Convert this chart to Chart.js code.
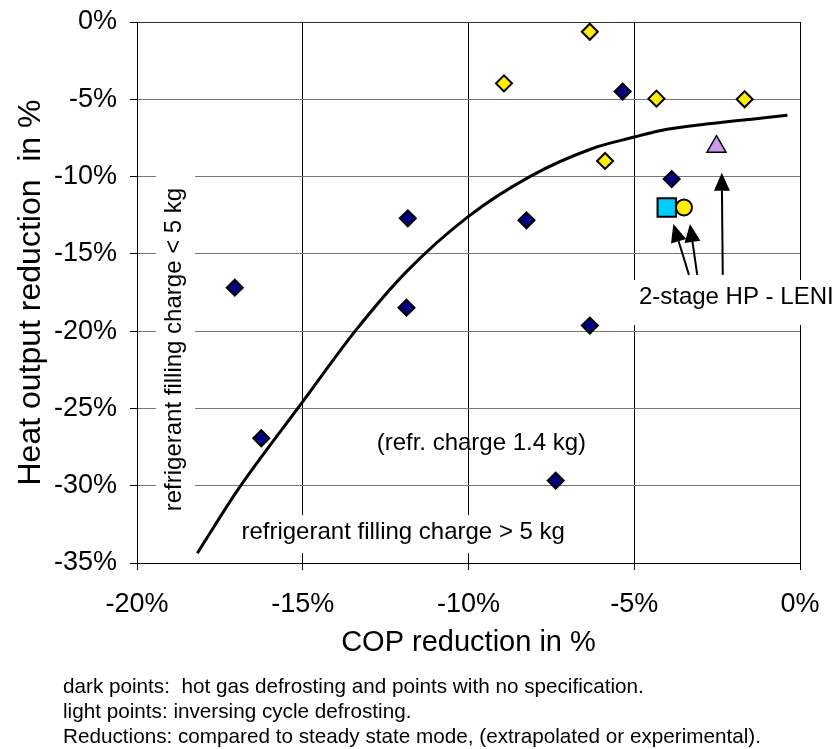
<!DOCTYPE html>
<html>
<head>
<meta charset="utf-8">
<script src="https://cdn.jsdelivr.net/npm/chart.js@4/dist/chart.umd.min.js"></script>
<style>
  html, body { margin: 0; padding: 0; background: #ffffff; }
  #wrap { width: 836px; height: 749px; position: relative; }
</style>
</head>
<body>
<div id="wrap"><canvas id="c" width="836" height="749"></canvas></div>
<script>
// Axis ticks (percent)
const copTicks = [-20, -15, -10, -5, 0];
const heatTicks = [0, -5, -10, -15, -20, -25, -30, -35];

// Hot gas defrosting / unspecified (dark points)
const darkCop  = [-17.05, -16.25, -11.83, -11.87, -8.25, -5.35, -3.87, -6.34, -7.37];
const darkHeat = [-17.19, -26.93, -12.70, -18.48, -12.83, -4.50, -10.16, -19.64, -29.67];

// Reverse cycle defrosting (light points)
const lightCop  = [-6.34, -8.93, -4.33, -1.67, -5.88];
const lightHeat = [-0.63, -3.97, -4.96, -5.00, -8.99];

// 2-stage HP - LENI variants
const lenSquareCop = [-4.02];  const lenSquareHeat = [-12.0];
const lenCircleCop = [-3.50];  const lenCircleHeat = [-12.0];
const lenTriCop    = [-2.52];  const lenTriHeat    = [-8.07];

// Trend curve
const trendCop  = [-18.18, -16.96, -15.0, -13.39, -11.87, -10.01, -8.15, -6.24, -5.03, -4.23, -2.82, -0.38];
const trendHeat = [-34.37, -30.27, -24.56, -19.92, -16.15, -12.59, -10.0, -8.17, -7.46, -7.03, -6.60, -6.04];

// Arrows pointing from the LENI label to its points: [tailCop, tailHeat, tipCop, tipHeat]
const leniArrows = [
  [-3.35, -16.36, -3.82, -13.07],
  [-3.10, -16.36, -3.32, -13.07],
  [-2.33, -16.36, -2.36, -9.75]
];

const notes = [
  'dark points:  hot gas defrosting and points with no specification.',
  'light points: inversing cycle defrosting.',
  'Reductions: compared to steady state mode, (extrapolated or experimental).'
];

const FONT = '"Liberation Sans", Arial, Helvetica, sans-serif';
Chart.defaults.font.family = FONT;
Chart.defaults.color = '#000000';

const pts = (xs, ys) => xs.map((x, i) => ({ x: x, y: ys[i] }));

const annotations = {
  id: 'annotations',
  beforeDatasetsDraw(chart) {
    const { ctx, scales: { x, y } } = chart;
    ctx.save();
    ctx.fillStyle = '#ffffff';
    // label backgrounds that interrupt the grid
    const box = (c0, c1, h0, h1) => {
      const l = x.getPixelForValue(c0), r = x.getPixelForValue(c1);
      const t = y.getPixelForValue(h0), b = y.getPixelForValue(h1);
      ctx.fillRect(l, t, r - l, b - t);
    };
    box(-19.43, -18.25, -9.6, -32.2);   // rotated "< 5 kg" label
    box(-17.05, -6.9, -31.9, -34.35);   // "> 5 kg" label
    box(-5.13, 1.2, -16.69, -19.6);     // LENI label
    ctx.restore();
  },
  afterDatasetsDraw(chart) {
    const { ctx, scales: { x, y } } = chart;
    ctx.save();
    ctx.fillStyle = '#000000';
    ctx.strokeStyle = '#000000';
    ctx.lineWidth = 2;
    leniArrows.forEach(a => {
      const x0 = x.getPixelForValue(a[0]), y0 = y.getPixelForValue(a[1]);
      const x1 = x.getPixelForValue(a[2]), y1 = y.getPixelForValue(a[3]);
      const ang = Math.atan2(y1 - y0, x1 - x0);
      const hl = 18, hw = 8;
      const bx = x1 - hl * Math.cos(ang), by = y1 - hl * Math.sin(ang);
      ctx.beginPath();
      ctx.moveTo(x0, y0);
      ctx.lineTo(bx, by);
      ctx.stroke();
      ctx.beginPath();
      ctx.moveTo(x1, y1);
      ctx.lineTo(bx + hw * Math.sin(ang), by - hw * Math.cos(ang));
      ctx.lineTo(bx - hw * Math.sin(ang), by + hw * Math.cos(ang));
      ctx.closePath();
      ctx.fill();
    });

    ctx.font = '24px ' + FONT;
    ctx.textBaseline = 'middle';
    ctx.textAlign = 'left';
    ctx.fillText('2-stage HP - LENI', x.getPixelForValue(-4.86), y.getPixelForValue(-17.79));
    ctx.fillText('(refr. charge 1.4 kg)', x.getPixelForValue(-12.77), y.getPixelForValue(-27.23));
    ctx.fillText('refrigerant filling charge > 5 kg', x.getPixelForValue(-16.85), y.getPixelForValue(-33.05));

    ctx.save();
    ctx.translate(x.getPixelForValue(-18.87), y.getPixelForValue(-21.19));
    ctx.rotate(-Math.PI / 2);
    ctx.textAlign = 'center';
    ctx.fillText('refrigerant filling charge < 5 kg', 0, 0);
    ctx.restore();
    ctx.restore();
  },
  afterDraw(chart) {
    const { ctx } = chart;
    ctx.save();
    ctx.font = '20.7px ' + FONT;
    ctx.fillStyle = '#000000';
    ctx.textBaseline = 'middle';
    ctx.textAlign = 'left';
    notes.forEach((t, i) => ctx.fillText(t, 63, 687 + i * 25));
    ctx.restore();
  }
};

const markerBase = { showLine: false, borderColor: '#000000', borderWidth: 2, pointHoverRadius: 8 };

new Chart(document.getElementById('c'), {
  type: 'scatter',
  data: {
    datasets: [
      Object.assign({}, markerBase, { label: 'LENI a', data: pts(lenSquareCop, lenSquareHeat), pointStyle: 'rect', pointRadius: 13, backgroundColor: '#00ccff' }),
      Object.assign({}, markerBase, { label: 'LENI b', data: pts(lenCircleCop, lenCircleHeat), pointStyle: 'circle', pointRadius: 8, backgroundColor: '#ffee00' }),
      Object.assign({}, markerBase, { label: 'LENI c', data: pts(lenTriCop, lenTriHeat), pointStyle: 'triangle', pointRadius: 11, backgroundColor: '#cc99ee', borderWidth: 1.5 }),
      Object.assign({}, markerBase, { label: 'light', data: pts(lightCop, lightHeat), pointStyle: 'rectRot', pointRadius: 8, backgroundColor: '#ffee00' }),
      Object.assign({}, markerBase, { label: 'dark', data: pts(darkCop, darkHeat), pointStyle: 'rectRot', pointRadius: 8, backgroundColor: '#000080' }),
      {
        type: 'line', label: 'trend', data: pts(trendCop, trendHeat),
        showLine: true, borderColor: '#000000', borderWidth: 3, pointRadius: 0,
        cubicInterpolationMode: 'monotone', fill: false
      }
    ]
  },
  options: {
    responsive: false,
    animation: false,
    devicePixelRatio: 1,
    layout: { padding: { left: 0, right: 36, top: 22, bottom: 86 } },
    plugins: { legend: { display: false }, tooltip: { enabled: false } },
    scales: {
      x: {
        type: 'linear', min: -20, max: 0,
        afterBuildTicks: s => { s.ticks = copTicks.map(v => ({ value: v })); },
        afterFit: s => { s.height = 100; s.paddingLeft = 0; s.paddingRight = 0; },
        grid: { color: '#000000', lineWidth: 1, drawTicks: true, tickLength: 7, tickColor: '#000000' },
        border: { color: '#000000', width: 1 },
        ticks: { font: { size: 27 }, color: '#000000', padding: 18, callback: v => v + '%', maxRotation: 0 },
        title: { display: true, text: 'COP reduction in %', font: { size: 29 }, color: '#000000', padding: { top: 0, bottom: 3 } }
      },
      y: {
        type: 'linear', min: -35, max: 0,
        afterBuildTicks: s => { s.ticks = heatTicks.map(v => ({ value: v })); },
        afterFit: s => { s.width = 137; s.paddingTop = 0; s.paddingBottom = 0; },
        grid: {
          color: c => (c.tick && c.tick.value === 0) ? '#333333' : '#777777',
          lineWidth: 1, drawTicks: true, tickLength: 7, tickColor: '#000000'
        },
        border: { color: '#000000', width: 1 },
        ticks: { font: { size: 27 }, color: '#000000', padding: 13, callback: v => v + '%' },
        title: { display: true, text: 'Heat output reduction  in %', font: { size: 32 }, color: '#000000', padding: { top: 12, bottom: 0 } }
      }
    }
  },
  plugins: [annotations]
});
</script>
</body>
</html>
